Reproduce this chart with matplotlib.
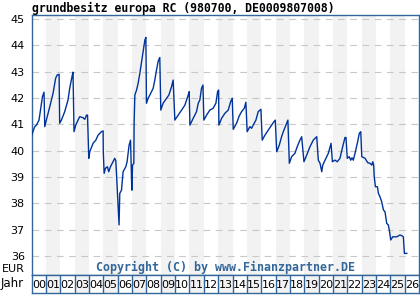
import matplotlib
matplotlib.use('Agg')
import matplotlib.pyplot as plt

title = 'grundbesitz europa RC (980700, DE0009807008)'
copyright_text = 'Copyright (C) by www.Finanzpartner.DE'

years = [2000.00, 2000.21, 2000.33, 2000.51, 2000.61, 2000.75, 2000.86, 2000.91,
         2001.02, 2001.26, 2001.49, 2001.67, 2001.77, 2001.91, 2001.95,
         2002.07, 2002.30, 2002.53, 2002.65, 2002.81, 2002.88, 2002.95,
         2003.07, 2003.23, 2003.35, 2003.58, 2003.70, 2003.82, 2003.89, 2003.93, 2003.98,
         2004.05, 2004.28, 2004.47, 2004.63, 2004.75, 2004.86, 2004.98, 2004.99,
         2005.05, 2005.14, 2005.28, 2005.37, 2005.49, 2005.67, 2005.79, 2005.86, 2005.91, 2005.98,
         2006.05, 2006.09, 2006.14, 2006.26, 2006.37, 2006.56, 2006.65, 2006.79, 2006.89, 2006.98,
         2007.03, 2007.12, 2007.14, 2007.19, 2007.31, 2007.42, 2007.54, 2007.66, 2007.77, 2007.89, 2007.96,
         2008.00, 2008.12, 2008.30, 2008.47, 2008.58, 2008.70, 2008.81, 2008.93,
         2009.00, 2009.16, 2009.40, 2009.56, 2009.75, 2009.86, 2009.98,
         2010.21, 2010.45, 2010.68, 2010.91, 2010.98,
         2011.03, 2011.26, 2011.49, 2011.61, 2011.72, 2011.84, 2011.94,
         2012.00, 2012.19, 2012.42, 2012.65, 2012.84, 2012.96,
         2013.03, 2013.05, 2013.24, 2013.47, 2013.70, 2013.87, 2013.98,
         2014.05, 2014.28, 2014.47, 2014.63, 2014.82, 2014.93,
         2015.02, 2015.21, 2015.33, 2015.44, 2015.63, 2015.79, 2015.98,
         2016.07, 2016.26, 2016.49, 2016.73, 2016.89, 2016.98,
         2017.08, 2017.26, 2017.42, 2017.54, 2017.72, 2017.86, 2017.96,
         2018.12, 2018.35, 2018.51, 2018.70, 2018.82, 2018.98,
         2019.17, 2019.40, 2019.63, 2019.87, 2019.98,
         2020.10, 2020.22, 2020.29, 2020.45, 2020.68, 2020.87, 2020.96,
         2021.14, 2021.30, 2021.49, 2021.68, 2021.84, 2021.91,
         2022.00, 2022.14, 2022.24, 2022.33, 2022.42, 2022.54, 2022.70, 2022.84, 2022.94,
         2023.01, 2023.24, 2023.43, 2023.59, 2023.71, 2023.78, 2023.84, 2023.88, 2023.96,
         2024.10, 2024.17, 2024.28, 2024.40, 2024.52, 2024.63, 2024.75, 2024.86, 2024.93,
         2025.03, 2025.17, 2025.45, 2025.68, 2025.84, 2025.91, 2025.98, 2026.15]

prices = [40.59, 40.91, 40.97, 41.16, 41.54, 42.05, 42.22, 40.91,
          41.16, 41.67, 42.18, 42.75, 42.87, 42.90, 41.04,
          41.16, 41.48, 41.92, 42.37, 42.81, 42.98, 40.72,
          40.97, 41.16, 41.29, 41.25, 41.19, 41.35, 41.35, 40.56, 39.71,
          39.96, 40.28, 40.40, 40.59, 40.66, 40.72, 40.75, 39.96,
          39.14, 39.33, 39.39, 39.20, 39.39, 39.58, 39.71, 39.62, 39.14, 38.38,
          37.62, 37.18, 38.38, 38.50, 39.20, 39.39, 39.58, 40.21, 40.40, 38.50,
          39.45, 39.52, 41.04, 42.11, 42.30, 42.56, 42.94, 43.38, 43.76, 44.20, 44.30,
          41.80, 41.99, 42.18, 42.37, 42.68, 43.06, 43.38, 43.54,
          41.54, 41.80, 41.99, 42.11, 42.43, 42.68, 41.16,
          41.35, 41.54, 41.73, 42.11, 42.24,
          40.97, 41.23, 41.48, 41.80, 41.92, 42.37, 42.49,
          41.16, 41.35, 41.54, 41.61, 41.80, 42.24,
          42.30, 40.97, 41.23, 41.42, 41.54, 41.86, 41.99,
          40.81, 41.04, 41.32, 41.48, 41.61, 41.84,
          40.72, 40.91, 40.85, 40.97, 41.16, 41.48, 41.57,
          40.40, 40.59, 40.78, 40.97, 41.10, 41.16,
          39.96, 40.21, 40.53, 40.72, 40.97, 41.16, 39.52,
          39.77, 39.90, 40.15, 40.40, 40.53, 39.58,
          39.83, 40.15, 40.40, 40.53, 39.64,
          39.52, 39.20, 39.45, 39.64, 39.90, 40.28, 39.58,
          39.64, 39.58, 39.71, 40.15, 40.50, 40.50,
          39.71, 39.77, 39.64, 39.73, 39.64, 39.90, 40.28, 40.66, 40.72,
          39.77, 39.71, 39.54, 39.52, 39.45, 39.58, 39.45, 39.01, 38.63,
          38.63, 38.38, 38.25, 38.06, 37.75, 37.68, 37.24, 37.18, 36.99,
          36.61, 36.73, 36.73, 36.80, 36.76, 36.73, 36.10, 36.10]

y_ticks = [36, 37, 38, 39, 40, 41, 42, 43, 44, 45]
year_labels = ['%02d' % i for i in range(27)]

frame = '#336699'
band = '#f2f2f2'

fig = plt.figure(figsize=(4.2, 3), dpi=100)
W, H = 420.0, 300.0
left, right, top, bottom = 31.7, 419.0, 15.0, 275.0

ax = fig.add_axes([left / W, 1 - bottom / H, (right - left) / W, (bottom - top) / H])
ax.set_xlim(2000, 2027)
ax.set_ylim(35.28, 45.15)
for i in range(1, 27, 2):
    ax.axvspan(2000 + i, 2001 + i, color=band, lw=0, zorder=0)
ax.set_yticks(y_ticks)
ax.set_yticklabels([str(t) for t in y_ticks])
ax.grid(axis='y', color='#c8c8c8', linestyle=(0, (6, 5)), lw=0.8)
ax.set_axisbelow(True)
ax.set_xticks([])
ax.tick_params(axis='y', length=0, pad=5, labelsize=8)
for s in ax.spines.values():
    s.set_color(frame)
    s.set_linewidth(1)
ax.plot(years, prices, color='#003399', lw=1.0, zorder=3)
ax.text(0.5, 0.028, copyright_text, transform=ax.transAxes, ha='center', va='center',
        family='DejaVu Sans Mono', fontweight='bold', fontsize=8.4, color=frame)

# year boxes below the chart
axb = fig.add_axes([left / W, 1 - 293.0 / H, (right - left) / W, 18.0 / H])
axb.set_xlim(2000, 2027)
axb.set_ylim(0, 1)
for i in range(27):
    if i % 2 == 1:
        axb.axvspan(2000 + i, 2001 + i, color=band, lw=0)
    if i > 0:
        axb.axvline(2000 + i, color=frame, lw=1)
    axb.text(2000.5 + i, 0.47, year_labels[i], ha='center', va='center', fontsize=8)
axb.set_xticks([])
axb.set_yticks([])
for s in axb.spines.values():
    s.set_color(frame)
    s.set_linewidth(1)

fig.text(25 / W, 1 - 269.5 / H, 'EUR', ha='right', va='center', fontsize=8)
fig.text(0.5 / W, 1 - 284 / H, 'Jahr', ha='left', va='center', fontsize=8.5)
fig.text(32 / W, 1 - 8.5 / H, title, ha='left', va='center',
         family='DejaVu Sans Mono', fontweight='bold', fontsize=8.3)

fig.savefig('out.png', dpi=100)
